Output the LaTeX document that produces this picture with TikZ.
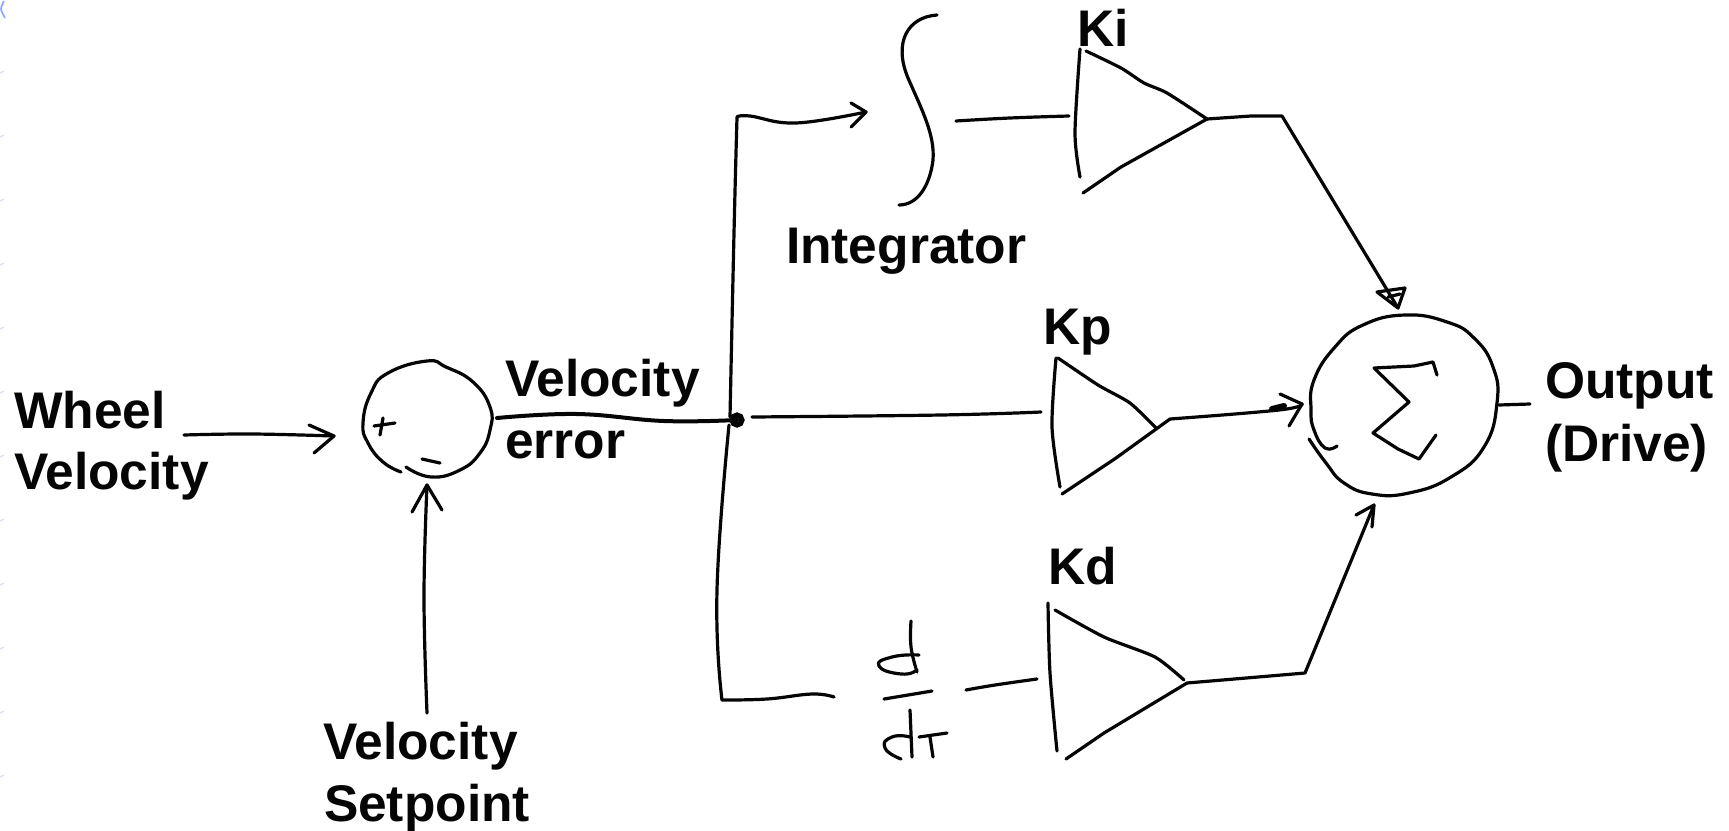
\documentclass[tikz,border=0pt]{standalone}
\usepackage{fontspec}
\setmainfont{Liberation Sans}
\definecolor{ink}{HTML}{050505}
\definecolor{scanblue}{HTML}{8AA4FF}
\definecolor{scanfaint}{HTML}{D6E0FA}
\tikzset{
  pen/.style={draw=ink,line width=4pt,line cap=round,line join=round},
  thinpen/.style={draw=ink,line width=3.2pt,line cap=round,line join=round},
  lbl/.style={anchor=base west,inner sep=0pt,outer sep=0pt,text=ink,font=\fontsize{51.5}{60}\selectfont\bfseries},
}
\begin{document}
\begin{tikzpicture}[x=1pt,y=-1pt]
\useasboundingbox[fill=white] (0,0) rectangle (1729,830);
% scan marks at the left edge
\draw[scanblue,line width=1.6pt] plot[smooth] coordinates {(4,1) (1,9) (5,18)};
\foreach \yy in {72,136,200,264,328,392,456,520,584,648,712,776}
  \draw[scanfaint,line width=1.2pt] (0,\yy+1) -- (4,\yy-1);
% text
\node[lbl] (wheel) at (14,428) {Wheel};
\node[lbl] (wheelv) at (14,489) {Velocity};
\node[lbl] (verr1) at (505,396) {Velocity};
\node[lbl] (verr2) at (505,458) {error};
\node[lbl] (setp1) at (323,759) {Velocity};
\node[lbl] (setp2) at (324,821) {Setpoint};
\node[lbl] (integ) at (786,263) {Integrator};
\node[lbl] (ki) at (1077,46) {Ki};
\node[lbl] (kp) at (1043,344) {Kp};
\node[lbl] (kd) at (1048,584) {Kd};
\node[lbl] (out1) at (1545,398) {Output};
\node[lbl] (out2) at (1545,461) {(Drive)};
% named end points
\coordinate (wvOut) at (184,435);
\coordinate (errIn) at (334,436);
\coordinate (spOut) at (427,713);
\coordinate (spIn) at (427,485);
\coordinate (errOut) at (497,418);
\coordinate (junction) at (737,420);
\coordinate (corner1) at (737,117);
\coordinate (intIn) at (866,112);
\coordinate (corner2) at (722,700);
\coordinate (ddtIn) at (834,697);
\coordinate (ddtOut) at (966,690);
\coordinate (kdIn) at (1037,679);
\coordinate (intOut) at (956,121);
\coordinate (kiIn) at (1069,116);
\coordinate (kpIn) at (1041,412);
\coordinate (kiOut) at (1207,119);
\coordinate (kpOut) at (1170,419);
\coordinate (kdOut) at (1187,683);
\coordinate (sumI) at (1398,308);
\coordinate (sumP) at (1302,404);
\coordinate (sumD) at (1374,505);
\coordinate (sumOut) at (1499,405);
\coordinate (driveIn) at (1530,404);
% first summing circle
\draw[thinpen] plot[smooth,tension=.8] coordinates {(401,472) (383,462) (368,443) (363,423) (371,393) (388,373) (427,361) (446,367) (473,382) (490,407) (490,430) (480,453) (460,470) (431,477) (406,467)};
\draw[thinpen] (374,426) -- (395,423) (383,418) -- (380,435);
\draw[thinpen] (422,459) -- (440,463);
% inputs
\draw[thinpen] plot[smooth,tension=.7] coordinates {(wvOut) (252,434) (errIn)};
\draw[thinpen] (309,425) -- (errIn) -- (314,453);
\draw[thinpen] plot[smooth,tension=.7] coordinates {(spOut) (424,597) (spIn)};
\draw[thinpen] (412,512) -- (spIn) -- (442,510);
% velocity error to junction
\draw[pen] plot[smooth,tension=.7] coordinates {(errOut) (577,414) (664,421) (junction)};
\draw[ink,line width=5.5pt] (junction) circle (4.8pt);
% branch up to integrator
\draw[thinpen] plot[smooth,tension=.8] coordinates {(730,417) (734,233) (corner1)};
\draw[thinpen] plot[smooth,tension=.7] coordinates {(corner1) (750,116) (796,123) (intIn)};
\draw[thinpen] (851,103) -- (intIn) -- (851,127);
% branch down to d/dt
\draw[thinpen] plot[smooth,tension=.8] coordinates {(729,425) (717,590) (corner2)};
\draw[thinpen] plot[smooth,tension=.7] coordinates {(corner2) (767,699) (812,694) (ddtIn)};
% branch across to Kp
\draw[thinpen] plot[smooth,tension=.7] coordinates {(752,417) (941,415) (kpIn)};
% integrator symbol
\draw[thinpen] (937,15) .. controls (908,17) and (893,42) .. (908,78) .. controls (922,110) and (935,135) .. (933,160) .. controls (930,185) and (918,205) .. (899,205);
\draw[thinpen] plot[smooth,tension=.7] coordinates {(intOut) (1010,118) (kiIn)};
% Ki triangle
\draw[thinpen] plot[smooth,tension=.5] coordinates {(1080,49) (1075,133) (1080,177)};
\draw[thinpen] plot[smooth,tension=.4] coordinates {(1086,51) (1121,68) (1144,83) (1167,93) (kiOut)};
\draw[thinpen] (1083,193) -- (1121,167) -- (kiOut);
\draw[thinpen] plot[smooth,tension=.7] coordinates {(kiOut) (1251,116)} -- (1282,116) -- (sumI);
\draw[thinpen] (1377,292) -- (sumI) -- (1405,288) -- (1377,292);
\draw[thinpen] (1388,297) -- (1400,294);
% Kp triangle
\draw[thinpen] plot[smooth,tension=.5] coordinates {(1056,358) (1052,427) (1060,487)};
\draw[thinpen] plot[smooth,tension=.4] coordinates {(1058,358) (1098,385) (1130,403) (1156,428)};
\draw[thinpen] (1062,494) -- (1116,458) -- (kpOut);
\draw[thinpen] plot[smooth,tension=.7] coordinates {(kpOut) (1279,410) (sumP)};
\draw[thinpen] (1280,394) -- (sumP) -- (1289,426);
\draw[draw=ink,line width=6pt,line cap=round] (1272,409) -- (1284,406);
% d/dt symbol
\draw[thinpen] plot[smooth,tension=.7] coordinates {(911,621) (911,647) (917,672)};
\draw[thinpen] plot[smooth,tension=1] coordinates {(919,655) (892,657) (879,666) (901,674) (917,670)};
\draw[thinpen] (884,699) -- (932,691);
\draw[thinpen] (910,710) -- (912,757);
\draw[thinpen] plot[smooth,tension=1] coordinates {(910,737) (892,737) (885,748) (901,759)};
\draw[thinpen] (919,737) -- (947,733) (930,737) -- (933,757);
\draw[thinpen] plot[smooth,tension=.7] coordinates {(ddtOut) (995,685) (kdIn)};
% Kd triangle
\draw[thinpen] plot[smooth,tension=.5] coordinates {(1048,603) (1050,673) (1057,751)};
\draw[thinpen] plot[smooth,tension=.4] coordinates {(1055,610) (1104,637) (1155,657) (1184,680)};
\draw[thinpen] (1066,759) -- (1104,733) -- (kdOut);
\draw[thinpen] plot[smooth,tension=.7] coordinates {(kdOut) (1258,677)} -- (1305,673) -- (sumD);
\draw[thinpen] (1356,515) -- (sumD) -- (1372,527);
% sum circle
\draw[thinpen] plot[smooth,tension=.8] coordinates {(1337,446) (1325,448) (1314,430) (1311,410) (1314,380) (1335,347) (1363,325) (1405,315) (1447,322) (1474,338) (1493,367) (1497,403) (1484,447) (1451,477) (1409,493) (1372,494) (1344,483) (1326,463) (1309,439)};
% sigma
\draw[thinpen] (1437,375) -- (1433,362) -- (1414,366) -- (1374,368) -- (1409,402) -- (1373,433) -- (1398,449) -- (1419,459) -- (1436,435);
% output stub
\draw[thinpen] (sumOut) -- (driveIn);
\end{tikzpicture}
\end{document}
